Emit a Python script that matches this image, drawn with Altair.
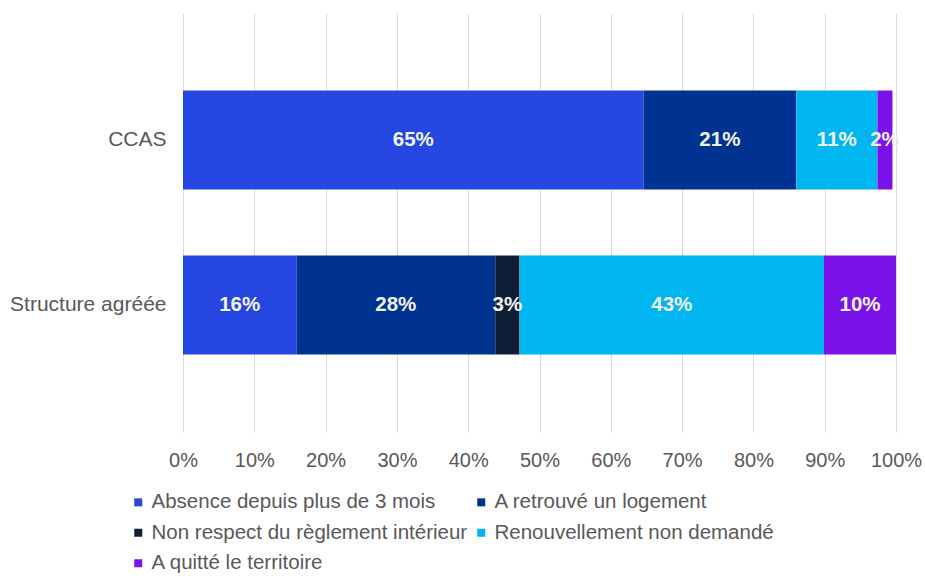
import altair as alt
import pandas as pd

categories = ["CCAS", "Structure agréée"]
series = [
    "Absence depuis plus de 3 mois",
    "A retrouvé un logement",
    "Non respect du règlement intérieur",
    "Renouvellement non demandé",
    "A quitté le territoire",
]
colors = ["#2546E0", "#003391", "#0F1D35", "#00B6F1", "#7B12EA"]
ccas_values = [64.6, 21.4, 0.0, 11.4, 2.1]
structure_values = [15.9, 27.9, 3.4, 42.7, 10.1]

rows = []
for cat, vals in zip(categories, [ccas_values, structure_values]):
    for i, (s, v) in enumerate(zip(series, vals)):
        rows.append({"cat": cat, "serie": s, "order": i, "value": v})
df = pd.DataFrame(rows)

FONT = "Liberation Sans"

base = alt.Chart(df).transform_stack(
    stack="value", groupby=["cat"], as_=["x0", "x1"],
    sort=[alt.SortField("order", order="ascending")],
).transform_calculate(
    mid="(datum.x0 + datum.x1) / 2",
    lbl="format(datum.value, '.0f') + '%'",
)

y_enc = alt.Y(
    "cat:N", sort=categories, title=None,
    scale=alt.Scale(paddingInner=0.4, paddingOuter=0.47),
    axis=alt.Axis(ticks=False, domain=False, labelPadding=17, labelFontSize=21,
                  labelColor="#595959", labelFont=FONT, grid=False),
)

bars = base.mark_bar().encode(
    x=alt.X("x0:Q", title=None,
            scale=alt.Scale(domain=[0, 100], nice=False),
            axis=alt.Axis(values=list(range(0, 101, 10)), labelExpr="datum.value + '%'",
                          ticks=False, domain=False, grid=True, gridColor="#d9d9d9",
                          labelFlush=False, labelPadding=18, labelFontSize=20,
                          labelColor="#595959", labelFont=FONT)),
    x2="x1:Q",
    y=y_enc,
    color=alt.Color("serie:N", sort=series,
                    scale=alt.Scale(domain=series, range=colors),
                    legend=alt.Legend(title=None, orient="none", legendX=-55, legendY=479,
                                      columns=2, direction="horizontal",
                                      symbolType="square", symbolSize=64,
                                      labelFontSize=20.5, labelColor="#595959", labelFont=FONT,
                                      labelLimit=500, rowPadding=9.5, columnPadding=3,
                                      labelOffset=3, symbolStrokeWidth=0, padding=0)),
    order=alt.Order("order:Q"),
)

texts = base.transform_filter("datum.value > 0").mark_text(
    fontSize=20.5, fontWeight="bold", color="#f2f2f2", font=FONT
).encode(
    x=alt.X("mid:Q"),
    y=alt.Y("cat:N", sort=categories),
    text="lbl:N",
)

chart = (bars + texts).properties(
    width=713, height=419,
    autosize=alt.AutoSizeParams(type="none"),
    padding={"left": 183, "top": 13, "right": 29, "bottom": 146},
).configure_view(stroke=None)

chart.save("out.html", embed_options={"renderer": "svg", "actions": False})
